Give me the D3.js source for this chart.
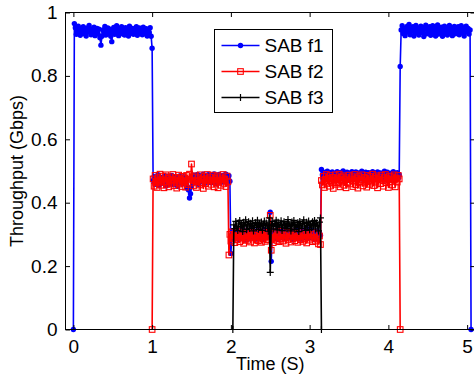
<!DOCTYPE html>
<html>
<head>
<meta charset="utf-8">
<script src="https://cdn.jsdelivr.net/npm/d3@7"></script>
<style>
  body { margin: 0; background: #fff; }
  svg { display: block; font-family: "Liberation Sans", Arial, sans-serif; }
</style>
</head>
<body>
<div class="chart"></div>
<script>
// sampling interval (s)
const dt = 0.0125;

// SAB f1 throughput (Gbps), one array per level
const f1a = [
  0.965, 0.952, 0.931, 0.944, 0.957, 0.936, 0.928, 0.949, 0.940, 0.955,
  0.933, 0.946, 0.926, 0.951, 0.938, 0.959, 0.943, 0.930, 0.948, 0.935,
  0.954, 0.927, 0.941, 0.950, 0.932, 0.947, 0.920, 0.897, 0.925, 0.945,
  0.937, 0.956, 0.929, 0.942, 0.951, 0.934, 0.947, 0.925, 0.908, 0.939,
  0.953, 0.931, 0.945, 0.958, 0.936, 0.927, 0.949, 0.940, 0.955, 0.933,
  0.944, 0.929, 0.952, 0.938, 0.947, 0.926, 0.957, 0.942, 0.934, 0.950,
  0.931, 0.946, 0.939, 0.955, 0.928, 0.943, 0.951, 0.936, 0.948, 0.930,
  0.954, 0.940, 0.933, 0.949, 0.926, 0.945, 0.937, 0.952, 0.925, 0.887
];
const f1b = [
  0.470, 0.482, 0.458, 0.476, 0.465, 0.488, 0.455, 0.473, 0.480, 0.461,
  0.478, 0.467, 0.485, 0.453, 0.471, 0.483, 0.460, 0.475, 0.468, 0.486,
  0.457, 0.474, 0.481, 0.463, 0.479, 0.452, 0.470, 0.484, 0.466, 0.477,
  0.459, 0.482, 0.469, 0.475, 0.456, 0.445, 0.440, 0.415, 0.428, 0.450,
  0.476, 0.487, 0.462, 0.479, 0.470, 0.489, 0.458, 0.481, 0.467, 0.485,
  0.473, 0.490, 0.460, 0.478, 0.484, 0.466, 0.488, 0.471, 0.480, 0.463,
  0.486, 0.475, 0.491, 0.468, 0.482, 0.459, 0.477, 0.489, 0.470, 0.484,
  0.465, 0.480, 0.487, 0.472, 0.490, 0.462, 0.478, 0.485, 0.468
];
const f1c = [
  0.240, 0.298, 0.312, 0.287, 0.305, 0.318, 0.292, 0.301, 0.284, 0.310,
  0.296, 0.315, 0.289, 0.307, 0.299, 0.282, 0.313, 0.294, 0.308, 0.286,
  0.303, 0.317, 0.291, 0.300, 0.311, 0.285, 0.306, 0.295, 0.314, 0.288,
  0.302, 0.309, 0.283, 0.297, 0.316, 0.290, 0.304, 0.312, 0.293, 0.305,
  0.370, 0.215, 0.300, 0.311, 0.287, 0.306, 0.296, 0.315, 0.284, 0.302,
  0.309, 0.291, 0.313, 0.298, 0.286, 0.307, 0.318, 0.293, 0.301, 0.289,
  0.312, 0.295, 0.304, 0.283, 0.310, 0.299, 0.316, 0.288, 0.305, 0.294,
  0.311, 0.285, 0.303, 0.314, 0.292, 0.300, 0.308, 0.287, 0.317, 0.296,
  0.302, 0.290, 0.313, 0.298, 0.306, 0.284, 0.311, 0.295, 0.309, 0.288,
  0.304, 0.297
];
const f1d = [
  0.505, 0.488, 0.496, 0.476, 0.491, 0.483, 0.499, 0.472, 0.487, 0.494,
  0.479, 0.497, 0.485, 0.474, 0.492, 0.481, 0.498, 0.470, 0.489, 0.495,
  0.477, 0.486, 0.500, 0.473, 0.490, 0.483, 0.496, 0.471, 0.488, 0.493,
  0.480, 0.498, 0.475, 0.491, 0.484, 0.497, 0.472, 0.489, 0.494, 0.478,
  0.486, 0.499, 0.474, 0.492, 0.482, 0.496, 0.470, 0.488, 0.495, 0.479,
  0.490, 0.476, 0.498, 0.485, 0.473, 0.493, 0.481, 0.497, 0.471, 0.487,
  0.494, 0.478, 0.491, 0.484, 0.499, 0.472, 0.489, 0.496, 0.480, 0.486,
  0.475, 0.493, 0.483, 0.498, 0.470, 0.490, 0.485, 0.495, 0.477, 0.488
];
const f1e = [
  0.830, 0.945, 0.958, 0.934, 0.950, 0.927, 0.943, 0.956, 0.938, 0.962,
  0.930, 0.948, 0.941, 0.955, 0.926, 0.946, 0.959, 0.935, 0.951, 0.929,
  0.944, 0.957, 0.937, 0.952, 0.924, 0.947, 0.960, 0.933, 0.949, 0.940,
  0.955, 0.928, 0.945, 0.958, 0.936, 0.951, 0.926, 0.943, 0.961, 0.932,
  0.948, 0.939, 0.954, 0.925, 0.946, 0.957, 0.935, 0.950, 0.929, 0.944,
  0.959, 0.937, 0.952, 0.927, 0.947, 0.956, 0.933, 0.949, 0.941, 0.955,
  0.930, 0.946, 0.958, 0.936, 0.951, 0.926, 0.943, 0.957, 0.938, 0.950,
  0.932, 0.945
];
const f1Starts = [0, 0.0125, 1.0125, 2.0, 3.15, 4.15, 5.05];
const f1Parts = [[0], f1a, f1b, f1c, f1d, f1e, [0]];

// SAB f2
const f2a = [
  0.475, 0.452, 0.486, 0.463, 0.448, 0.479, 0.469, 0.490, 0.455, 0.472,
  0.484, 0.447, 0.466, 0.488, 0.458, 0.477, 0.450, 0.482, 0.461, 0.473,
  0.489, 0.454, 0.468, 0.480, 0.446, 0.476, 0.487, 0.459, 0.471, 0.451,
  0.483, 0.464, 0.478, 0.449, 0.486, 0.457, 0.474, 0.490, 0.462, 0.522,
  0.481, 0.453, 0.470, 0.485, 0.448, 0.467, 0.479, 0.456, 0.488, 0.463,
  0.474, 0.445, 0.483, 0.460, 0.476, 0.489, 0.452, 0.469, 0.481, 0.458,
  0.472, 0.487, 0.450, 0.478, 0.464, 0.485, 0.447, 0.470, 0.482, 0.455,
  0.476, 0.489, 0.461, 0.473, 0.451, 0.484, 0.466
];
const f2b = [
  0.235, 0.300, 0.279, 0.308, 0.287, 0.296, 0.274, 0.305, 0.283, 0.310,
  0.291, 0.277, 0.302, 0.288, 0.307, 0.272, 0.298, 0.285, 0.304, 0.281,
  0.309, 0.293, 0.276, 0.301, 0.289, 0.306, 0.273, 0.297, 0.284, 0.303,
  0.280, 0.308, 0.290, 0.275, 0.300, 0.286, 0.305, 0.278, 0.296, 0.283,
  0.307, 0.292, 0.360, 0.250, 0.299, 0.274, 0.304, 0.288, 0.309, 0.281,
  0.295, 0.277, 0.302, 0.286, 0.310, 0.279, 0.298, 0.290, 0.272, 0.306,
  0.284, 0.301, 0.293, 0.276, 0.308, 0.287, 0.297, 0.280, 0.303, 0.289,
  0.275, 0.305, 0.292, 0.283, 0.309, 0.278, 0.299, 0.286, 0.304, 0.273,
  0.296, 0.307, 0.282, 0.300, 0.288, 0.277, 0.306, 0.291, 0.279, 0.302,
  0.285, 0.270, 0.295, 0.268
];
const f2c = [
  0.470, 0.456, 0.483, 0.448, 0.474, 0.489, 0.461, 0.477, 0.452, 0.486,
  0.467, 0.480, 0.445, 0.472, 0.488, 0.458, 0.476, 0.463, 0.490, 0.450,
  0.481, 0.469, 0.485, 0.455, 0.473, 0.447, 0.479, 0.464, 0.487, 0.459,
  0.475, 0.482, 0.451, 0.468, 0.489, 0.457, 0.478, 0.446, 0.484, 0.466,
  0.472, 0.488, 0.453, 0.480, 0.462, 0.476, 0.449, 0.486, 0.470, 0.458,
  0.483, 0.465, 0.490, 0.454, 0.477, 0.468, 0.485, 0.447, 0.474, 0.481,
  0.460, 0.487, 0.471, 0.452, 0.479, 0.489, 0.463, 0.476, 0.448, 0.484,
  0.467, 0.482, 0.456, 0.473, 0.488, 0.450, 0.478, 0.465, 0.486, 0.475
];
const f2Starts = [1.0, 1.0125, 1.975, 3.15, 4.15];
const f2Parts = [[0], f2a, f2b, f2c, [0]];

// SAB f3
const f3a = [
  0.330, 0.318, 0.341, 0.325, 0.312, 0.336, 0.344, 0.321, 0.333, 0.309,
  0.338, 0.327, 0.346, 0.315, 0.331, 0.340, 0.319, 0.335, 0.324, 0.343,
  0.311, 0.329, 0.337, 0.322, 0.345, 0.316, 0.334, 0.326, 0.339, 0.313,
  0.332, 0.342, 0.320, 0.336, 0.328, 0.310, 0.352, 0.180, 0.330, 0.341,
  0.317, 0.334, 0.326, 0.345, 0.314, 0.338, 0.323, 0.331, 0.343, 0.312,
  0.329, 0.340, 0.321, 0.336, 0.318, 0.347, 0.325, 0.333, 0.311, 0.339,
  0.327, 0.344, 0.316, 0.332, 0.322, 0.337, 0.309, 0.341, 0.330, 0.319,
  0.335, 0.346, 0.324, 0.313, 0.338, 0.328, 0.342, 0.315, 0.333, 0.321,
  0.340, 0.326, 0.344, 0.317, 0.336, 0.329, 0.311, 0.339, 0.352
];
const f3Starts = [2.025, 2.0375, 3.15];
const f3Parts = [[0], f3a, [0]];

const seriesNames = ['SAB f1', 'SAB f2', 'SAB f3'];
const xTicks = [0, 1, 2, 3, 4, 5];
const yTicks = [0, 0.2, 0.4, 0.6, 0.8, 1];

function toPoints(starts, parts) {
  const pts = [];
  parts.forEach((vals, j) => {
    vals.forEach((v, i) => pts.push({t: starts[j] + i * dt, v: v}));
  });
  return pts;
}

const series = [
  {name: seriesNames[0], points: toPoints(f1Starts, f1Parts), color: '#0000ff', marker: 'dot'},
  {name: seriesNames[1], points: toPoints(f2Starts, f2Parts), color: '#ff0000', marker: 'square'},
  {name: seriesNames[2], points: toPoints(f3Starts, f3Parts), color: '#000000', marker: 'plus'}
];

const outerWidth = 474;
const outerHeight = 381;
const margin = {top: 12.5, left: 65.5, bottom: 51.5, right: -1};
const width = outerWidth - margin.left - margin.right;
const height = outerHeight - margin.top - margin.bottom;

const svg = d3.select('.chart')
  .append('svg')
  .attr('width', outerWidth)
  .attr('height', outerHeight);

const g = svg.append('g')
  .attr('transform', `translate(${margin.left}, ${margin.top})`);

const xScale = d3.scaleLinear().domain([-0.1, 5.1]).range([0, width]);
const yScale = d3.scaleLinear().domain([0, 1]).range([height, 0]);

const line = d3.line()
  .x(d => xScale(d.t))
  .y(d => yScale(d.v));

const plot = g.append('g').attr('class', 'plot');

function drawMarker(sel, s) {
  if (s.marker === 'dot') {
    sel.append('circle')
      .attr('r', 2.7)
      .attr('fill', s.color);
  } else if (s.marker === 'square') {
    sel.append('rect')
      .attr('x', -2.8).attr('y', -2.8)
      .attr('width', 5.6).attr('height', 5.6)
      .attr('fill', 'none')
      .attr('stroke', s.color)
      .attr('stroke-width', 1.1);
  } else {
    sel.append('path')
      .attr('d', 'M-3.5,0H3.5M0,-3.5V3.5')
      .attr('stroke', s.color)
      .attr('stroke-width', 1.2);
  }
}

series.forEach(s => {
  const sg = plot.append('g');
  sg.append('path')
    .datum(s.points)
    .attr('fill', 'none')
    .attr('stroke', s.color)
    .attr('stroke-width', 1.6)
    .attr('stroke-linejoin', 'round')
    .attr('d', line);
  sg.selectAll('g.mk')
    .data(s.points)
    .enter()
    .append('g')
    .attr('class', 'mk')
    .attr('transform', d => `translate(${xScale(d.t)}, ${yScale(d.v)})`)
    .each(function() { drawMarker(d3.select(this), s); });
});

// axes: MATLAB style box with inward ticks on all sides
const tickLen = 4.5;
const xAxis = d3.axisBottom(xScale).tickValues(xTicks).tickSize(-tickLen).tickPadding(10).tickFormat(d3.format('d'));
const xAxisTop = d3.axisTop(xScale).tickValues(xTicks).tickSize(-tickLen).tickFormat('');
const yAxis = d3.axisLeft(yScale).tickValues(yTicks).tickSize(-tickLen).tickPadding(8).tickFormat(d => d === 0 || d === 1 ? d : d3.format('.1f')(d));
const yAxisRight = d3.axisRight(yScale).tickValues(yTicks).tickSize(-tickLen).tickFormat('');

function styleAxis(a) {
  a.selectAll('.domain').remove();
  a.selectAll('.tick line').attr('stroke', '#000').attr('stroke-width', 1);
  a.selectAll('.tick text')
    .attr('fill', '#000')
    .attr('font-size', 19)
    .attr('font-family', '"Liberation Sans", Arial, sans-serif');
}

g.append('g').attr('transform', `translate(0, ${height})`).call(xAxis).call(styleAxis);
g.append('g').call(xAxisTop).call(styleAxis);
g.append('g').call(yAxis).call(styleAxis);
g.append('g').attr('transform', `translate(${width}, 0)`).call(yAxisRight).call(styleAxis);

g.append('rect')
  .attr('x', 0).attr('y', 0)
  .attr('width', width).attr('height', height)
  .attr('fill', 'none')
  .attr('stroke', '#000')
  .attr('stroke-width', 1);

// axis labels
svg.append('text')
  .attr('x', margin.left + width / 2)
  .attr('y', 370)
  .attr('text-anchor', 'middle')
  .attr('font-size', 18)
  .text('Time (S)');

svg.append('text')
  .attr('transform', `translate(23, ${margin.top + height / 2}) rotate(-90)`)
  .attr('text-anchor', 'middle')
  .attr('font-size', 18)
  .text('Throughput (Gbps)');

// legend
const legend = svg.append('g').attr('transform', 'translate(214.5, 29.5)');
legend.append('rect')
  .attr('width', 118).attr('height', 83)
  .attr('fill', '#fff')
  .attr('stroke', '#000')
  .attr('stroke-width', 1);

const rowY = d3.scalePoint().domain(seriesNames).range([16, 68]);
series.forEach(s => {
  const row = legend.append('g').attr('transform', `translate(0, ${rowY(s.name)})`);
  row.append('line')
    .attr('x1', 7).attr('x2', 45)
    .attr('stroke', s.color)
    .attr('stroke-width', 1.6);
  const mk = row.append('g').attr('transform', 'translate(26, 0)');
  drawMarker(mk, s);
  row.append('text')
    .attr('x', 50)
    .attr('dy', '0.35em')
    .attr('font-size', 19)
    .text(s.name);
});
</script>
</body>
</html>
